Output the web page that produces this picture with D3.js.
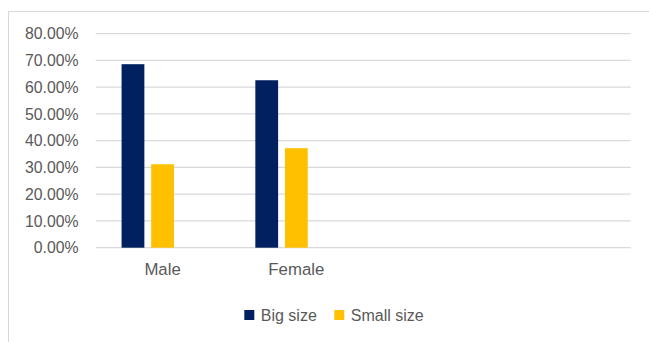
<!DOCTYPE html>
<html>
<head>
<meta charset="utf-8">
<script src="https://cdn.jsdelivr.net/npm/d3@7"></script>
<style>
  html, body { margin: 0; padding: 0; background: #fff; }
  svg { display: block; }
  text { font-family: "Liberation Sans", Arial, sans-serif; fill: #595959; }
</style>
</head>
<body>
<svg id="chart" width="649" height="342"></svg>
<script>
// Category axis: two labelled groups followed by two empty slots
const categories = ["Male", "Female", "", ""];
// Series shown in the legend, plus a third empty slot per group
const seriesNames = ["Big size", "Small size"];
const slotNames = ["Big size", "Small size", "(blank)"];
const bigSize = [0.686, 0.626, null, null];
const smallSize = [0.312, 0.372, null, null];
const yTicks = [0, 0.1, 0.2, 0.3, 0.4, 0.5, 0.6, 0.7, 0.8];

const colors = { "Big size": "#002060", "Small size": "#FFC000" };

const svg = d3.select("#chart");

// chart frame
svg.append("rect")
  .attr("x", 8.5).attr("y", 11.5)
  .attr("width", 700).attr("height", 400)
  .attr("fill", "none").attr("stroke", "#d9d9d9").attr("stroke-width", 1);

const plot = { left: 95.7, right: 630.7, top: 33.7, bottom: 247.7 };

const y = d3.scaleLinear().domain([0, 0.8]).range([plot.bottom, plot.top]);

const x0 = d3.scaleBand()
  .domain(categories.map((c, i) => i))
  .range([plot.left, plot.right])
  .paddingInner(0.387)
  .paddingOuter(0.1935);

const x1 = d3.scaleBand()
  .domain(slotNames)
  .range([0, x0.bandwidth()])
  .paddingInner(0.23);

// gridlines
svg.append("g")
  .selectAll("line")
  .data(yTicks)
  .join("line")
  .attr("x1", plot.left).attr("x2", plot.right)
  .attr("y1", d => y(d)).attr("y2", d => y(d))
  .attr("stroke", "#d9d9d9").attr("stroke-width", 1.3);

// y axis labels
const yAxis = d3.axisLeft(y).tickValues(yTicks).tickFormat(d3.format(".2%")).tickSize(0).tickPadding(0);
const gy = svg.append("g").attr("transform", `translate(78.5,0)`).call(yAxis);
gy.select(".domain").remove();
gy.selectAll("text")
  .attr("font-size", "15.8px")
  .attr("fill", "#595959")
  .style("font-family", "'Liberation Sans', Arial, sans-serif");

// bars
const rows = categories.map((c, i) => ({
  i,
  values: [
    { key: "Big size", v: bigSize[i] },
    { key: "Small size", v: smallSize[i] }
  ]
}));

svg.append("g")
  .selectAll("g")
  .data(rows)
  .join("g")
  .attr("transform", d => `translate(${x0(d.i)},0)`)
  .selectAll("rect")
  .data(d => d.values.filter(v => v.v != null))
  .join("rect")
  .attr("x", d => x1(d.key))
  .attr("width", x1.bandwidth())
  .attr("y", d => y(d.v))
  .attr("height", d => y(0) - y(d.v))
  .attr("fill", d => colors[d.key]);

// category labels
const xAxis = d3.axisBottom(x0).tickFormat(i => categories[i]).tickSize(0).tickPadding(0);
const gx = svg.append("g").attr("transform", `translate(0,${plot.bottom + 27})`).call(xAxis);
gx.select(".domain").remove();
gx.selectAll("text")
  .attr("font-size", "16.8px")
  .attr("fill", "#595959")
  .attr("dy", "0")
  .style("font-family", "'Liberation Sans', Arial, sans-serif");

// legend
const legend = svg.append("g");
const legendX = [244.3, 334.3];
seriesNames.forEach((name, k) => {
  legend.append("rect")
    .attr("x", legendX[k]).attr("y", 310)
    .attr("width", 10).attr("height", 10)
    .attr("fill", colors[name]);
  legend.append("text")
    .attr("x", legendX[k] + 16.5).attr("y", 320.5)
    .attr("font-size", "16px")
    .text(name);
});
</script>
</body>
</html>
